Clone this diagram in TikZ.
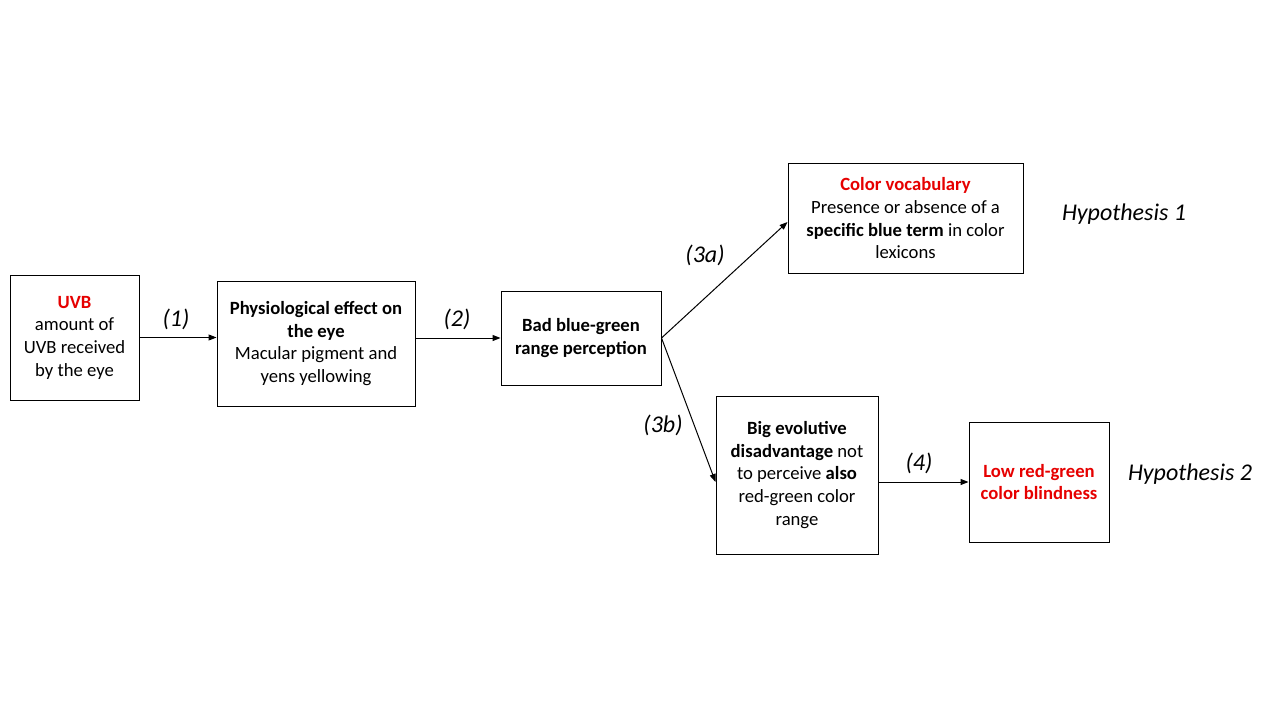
\documentclass[tikz,border=0pt]{standalone}
\usepackage{fontspec}
\setmainfont{Carlito}
\usetikzlibrary{arrows.meta,calc}
\definecolor{hired}{HTML}{E60000}
\tikzset{
  box/.style={draw=black,line width=0.75pt,align=center,inner sep=0pt,font=\fontsize{14}{17}\selectfont},
  arr/.style={line width=0.75pt,-{Triangle[length=6pt,width=4.5pt]}},
  lab/.style={font=\fontsize{18}{21}\selectfont\itshape},
}
\begin{document}
\begin{tikzpicture}[x=0.75pt,y=-0.75pt]
\path[use as bounding box,fill=white] (0,0) rectangle (1280,720);
\node[box,minimum width=96.75pt,minimum height=93.75pt] (uvb) at (74.5,337.5)
  {\textcolor{hired}{\textbf{UVB}}\\amount of\\UVB received\\by the eye};
\node[box,minimum width=148.5pt,minimum height=93.75pt] (phy) at (316,343.5)
  {\textbf{Physiological effect on}\\\textbf{the eye}\\Macular pigment and\\yens yellowing};
\node[box,minimum width=120pt,minimum height=70.5pt] (bad) at (581,338)
  {\textbf{Bad blue-green}\\\textbf{range perception}};
\node[box,minimum width=176.25pt,minimum height=81.75pt] (voc) at (905.5,218.5)
  {\textcolor{hired}{\textbf{Color vocabulary}}\\Presence or absence of a\\\textbf{specific blue term} in color\\lexicons};
\node[box,minimum width=121.5pt,minimum height=118.5pt] (big) at (797,475)
  {\textbf{Big evolutive}\\\textbf{disadvantage} not\\to perceive \textbf{also}\\red-green color\\range};
\node[box,minimum width=105pt,minimum height=90pt] (low) at (1039,482)
  {\textcolor{hired}{\textbf{Low red-green}}\\\textcolor{hired}{\textbf{color blindness}}};
\draw[arr] (uvb.east) -- (phy.west |- uvb.east);
\draw[arr] (phy.east |- bad.west) -- (bad.west);
\draw[arr] (bad.east) -- ($(voc.west)+(0,3.5)$);
\draw[arr] (bad.east) -- (big.west |- low.west);
\draw[arr] (big.east |- low.west) -- (low.west);
\node[lab] (l1) at (176,319) {(1)};
\node[lab] (l2) at (457,319) {(2)};
\node[lab] (l3a) at (705,255) {(3a)};
\node[lab] (l3b) at (663,425) {(3b)};
\node[lab] (l4) at (919,463) {(4)};
\node[lab] (h1) at (1124,214) {Hypothesis 1};
\node[lab] (h2) at (1190,474) {Hypothesis 2};
\end{tikzpicture}
\end{document}
